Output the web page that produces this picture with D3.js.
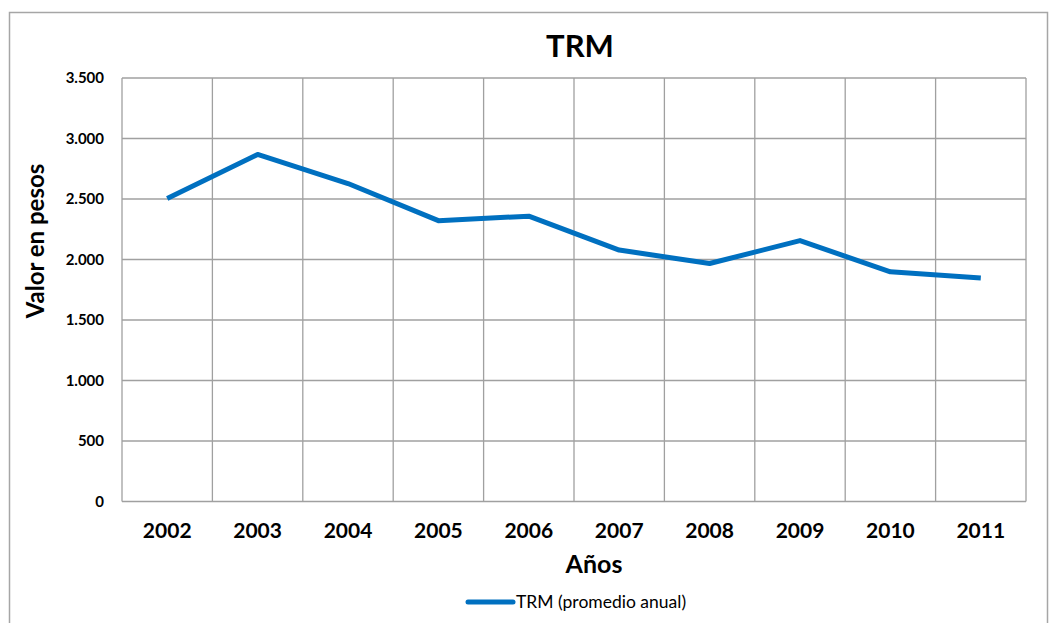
<!DOCTYPE html>
<html><head><meta charset="utf-8">
<script src="https://cdn.jsdelivr.net/npm/d3@7"></script>
<style>body{margin:0;background:#fff;} svg{display:block;}</style>
</head><body>
<svg id="c" width="1050" height="623"></svg>
<script>
const years = ["2002","2003","2004","2005","2006","2007","2008","2009","2010","2011"];
const trm = [2504, 2868, 2628, 2321, 2358, 2078, 1967, 2156, 1898, 1848];
const yTicks = [0, 500, 1000, 1500, 2000, 2500, 3000, 3500];
const seriesName = "TRM (promedio anual)";
const title = "TRM";
const xTitle = "Años";
const yTitle = "Valor en pesos";

const svg = d3.select("#c");
const font = "Lato, 'Open Sans', sans-serif";
const m = {l:122, r:1026, t:78, b:501.5};

svg.append("rect").attr("x",9.5).attr("y",12.5).attr("width",1038).attr("height",700)
  .attr("fill","#fff").attr("stroke","#a6a6a6").attr("stroke-width",1.5);

const x = d3.scaleBand().domain(years).range([m.l, m.r]);
const y = d3.scaleLinear().domain([0,3500]).range([m.b, m.t]);

const g = svg.append("g");
g.selectAll(".hg").data(yTicks).join("line")
  .attr("x1",m.l).attr("x2",m.r).attr("y1",d=>y(d)).attr("y2",d=>y(d))
  .attr("stroke","#a0a0a0").attr("stroke-width",1.3);
const bounds = years.map(d=>x(d)).concat([m.r]);
g.selectAll(".vg").data(bounds).join("line")
  .attr("x1",d=>d).attr("x2",d=>d).attr("y1",m.t).attr("y2",m.b)
  .attr("stroke","#a0a0a0").attr("stroke-width",1.3);

const fmt = d3.formatLocale({decimal:",", thousands:".", grouping:[3]}).format(",");
svg.append("g").attr("transform",`translate(${m.l},0)`)
  .call(d3.axisLeft(y).tickValues(yTicks).tickSize(0).tickPadding(18).tickFormat(fmt))
  .call(s=>s.select(".domain").remove())
  .call(s=>s.selectAll("text").attr("font-family",font).attr("font-weight","bold")
    .attr("font-size",15).attr("fill","#000"));

svg.append("g").attr("transform",`translate(0,${m.b})`)
  .call(d3.axisBottom(x).tickSize(0).tickPadding(22))
  .call(s=>s.select(".domain").remove())
  .call(s=>s.selectAll("text").attr("font-family",font).attr("font-weight","bold")
    .attr("font-size",21).attr("fill","#000"));

const line = d3.line().x((d,i)=>x(years[i])+x.bandwidth()/2).y(d=>y(d));
svg.append("path").datum(trm).attr("d",line).attr("fill","none")
  .attr("stroke","#0070c0").attr("stroke-width",5).attr("stroke-linejoin","round");

svg.append("text").attr("x",580).attr("y",57).attr("text-anchor","middle")
  .attr("font-family",font).attr("font-weight","bold").attr("font-size",31).text(title);
svg.append("text").attr("x",594).attr("y",573).attr("text-anchor","middle")
  .attr("font-family",font).attr("font-weight","bold").attr("font-size",25).text(xTitle);
svg.append("text").attr("transform",`translate(44,241) rotate(-90)`).attr("text-anchor","middle")
  .attr("font-family",font).attr("font-weight","bold").attr("font-size",24).text(yTitle);

svg.append("line").attr("x1",468).attr("x2",513).attr("y1",602).attr("y2",602)
  .attr("stroke","#0070c0").attr("stroke-width",5).attr("stroke-linecap","round");
svg.append("text").attr("x",516).attr("y",608).attr("font-family",font)
  .attr("font-size",17.5).attr("fill","#000").text(seriesName);
</script>
</body></html>
